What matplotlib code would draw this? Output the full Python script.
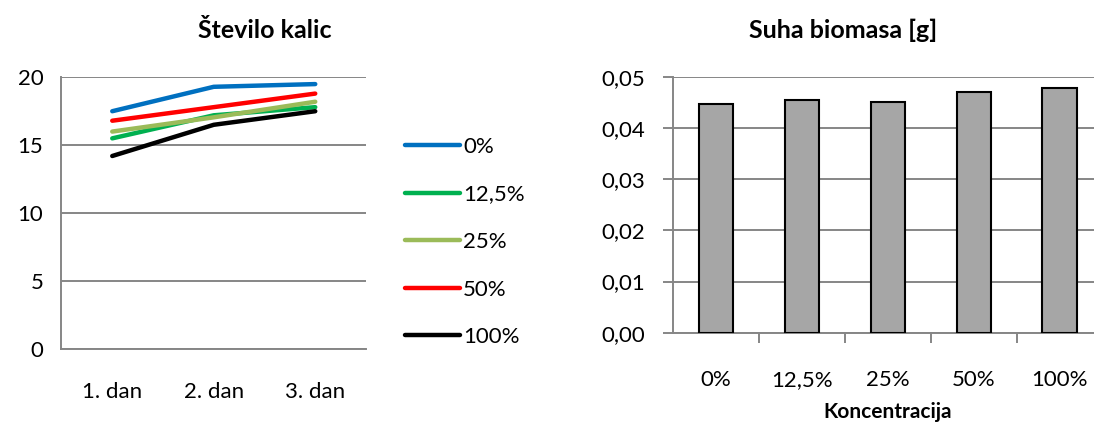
import matplotlib
matplotlib.use("Agg")
import matplotlib.pyplot as plt

plt.rcParams['font.family'] = ['Lato', 'DejaVu Sans']

# Left chart: number of sprouts per day
days = ['1. dan', '2. dan', '3. dan']
series_labels = ['0%', '12,5%', '25%', '50%', '100%']
sprouts_0 = [17.5, 19.3, 19.5]
sprouts_12_5 = [15.5, 17.2, 17.8]
sprouts_25 = [16.0, 17.05, 18.2]
sprouts_50 = [16.8, 17.8, 18.8]
sprouts_100 = [14.2, 16.5, 17.5]
series_colors = ['#0070C0', '#00B050', '#9BBB59', '#FF0000', '#000000']

# Right chart: dry biomass per concentration
concentrations = ['0%', '12,5%', '25%', '50%', '100%']
biomass = [0.0447, 0.0455, 0.0450, 0.0470, 0.0477]

W, H = 1094, 423
fig = plt.figure(figsize=(W / 100, H / 100), dpi=100)

def px_axes(x0, y0, x1, y1):
    return fig.add_axes([x0 / W, 1 - y1 / H, (x1 - x0) / W, (y1 - y0) / H])

grid_c = '#868686'
fs = 16
title_fs = 18

# ---- line chart ----
ax1 = px_axes(61.5, 77.3, 366, 348.7)
xs = range(len(days))
all_series = [sprouts_0, sprouts_12_5, sprouts_25, sprouts_50, sprouts_100]
handles = []
for vals, c, lab in zip(all_series, series_colors, series_labels):
    h, = ax1.plot(xs, vals, color=c, lw=3.2, solid_capstyle='round',
                  solid_joinstyle='round', label=lab)
    handles.append(h)
ax1.set_xlim(-0.5, 2.5)
ax1.set_ylim(0, 20)
ax1.set_yticks([0, 5, 10, 15, 20])
ax1.set_xticks(list(xs))
ax1.set_xticklabels(days)
ax1.yaxis.grid(True, color=grid_c, lw=1.4)
ax1.set_axisbelow(True)
for s in ['top', 'right']:
    ax1.spines[s].set_visible(False)
for s in ['left', 'bottom']:
    ax1.spines[s].set_color(grid_c)
    ax1.spines[s].set_linewidth(1.4)
ax1.tick_params(axis='both', length=0, labelsize=fs, colors='black')
ax1.tick_params(axis='y', pad=13)
ax1.tick_params(axis='x', pad=24)
fig.text(265 / W, 1 - 30 / H, 'Število kalic', ha='center', va='center',
         fontsize=title_fs, fontweight='bold')

leg = fig.legend(handles=handles, loc='upper left',
                 bbox_to_anchor=(405 / W, 1 - 137 / H), frameon=False,
                 fontsize=fs, handlelength=2.48, handletextpad=0.14,
                 labelspacing=1.24, borderaxespad=0, borderpad=0)

# ---- bar chart ----
ax2 = px_axes(673.3, 76.7, 1102.5, 332.7)
xb = range(len(concentrations))
ax2.bar(xb, biomass, width=0.4, color='#A6A6A6', edgecolor='black', lw=1.5,
        zorder=3)
ax2.set_xlim(-0.5, len(concentrations) - 0.5)
ax2.set_ylim(0, 0.05)
yt = [0, 0.01, 0.02, 0.03, 0.04, 0.05]
ax2.set_yticks(yt)
ax2.set_yticklabels([f'{v:.2f}'.replace('.', ',') for v in yt])
ax2.set_xticks([i - 0.5 for i in range(1, len(concentrations))], minor=False)
ax2.set_xticklabels([])
ax2.set_xticks(list(xb), minor=True)
ax2.set_xticklabels(concentrations, minor=True)
ax2.yaxis.grid(True, color=grid_c, lw=1.4)
for s in ['top', 'right']:
    ax2.spines[s].set_visible(False)
for s in ['left', 'bottom']:
    ax2.spines[s].set_color(grid_c)
    ax2.spines[s].set_linewidth(1.4)
ax2.tick_params(axis='y', which='major', length=7, width=1.4, color=grid_c,
                labelsize=fs, pad=13)
ax2.tick_params(axis='x', which='major', length=7, width=1.4, color=grid_c)
ax2.tick_params(axis='x', which='minor', length=0, labelsize=fs, pad=27)
ax2.set_xlabel('Koncentracija', fontsize=15, fontweight='bold')
ax2.xaxis.set_label_coords((888 - 673.3) / (1102.5 - 673.3), -0.27)
fig.text(843 / W, 1 - 30 / H, 'Suha biomasa [g]', ha='center', va='center',
         fontsize=title_fs, fontweight='bold')

fig.savefig('out.png', dpi=100)
